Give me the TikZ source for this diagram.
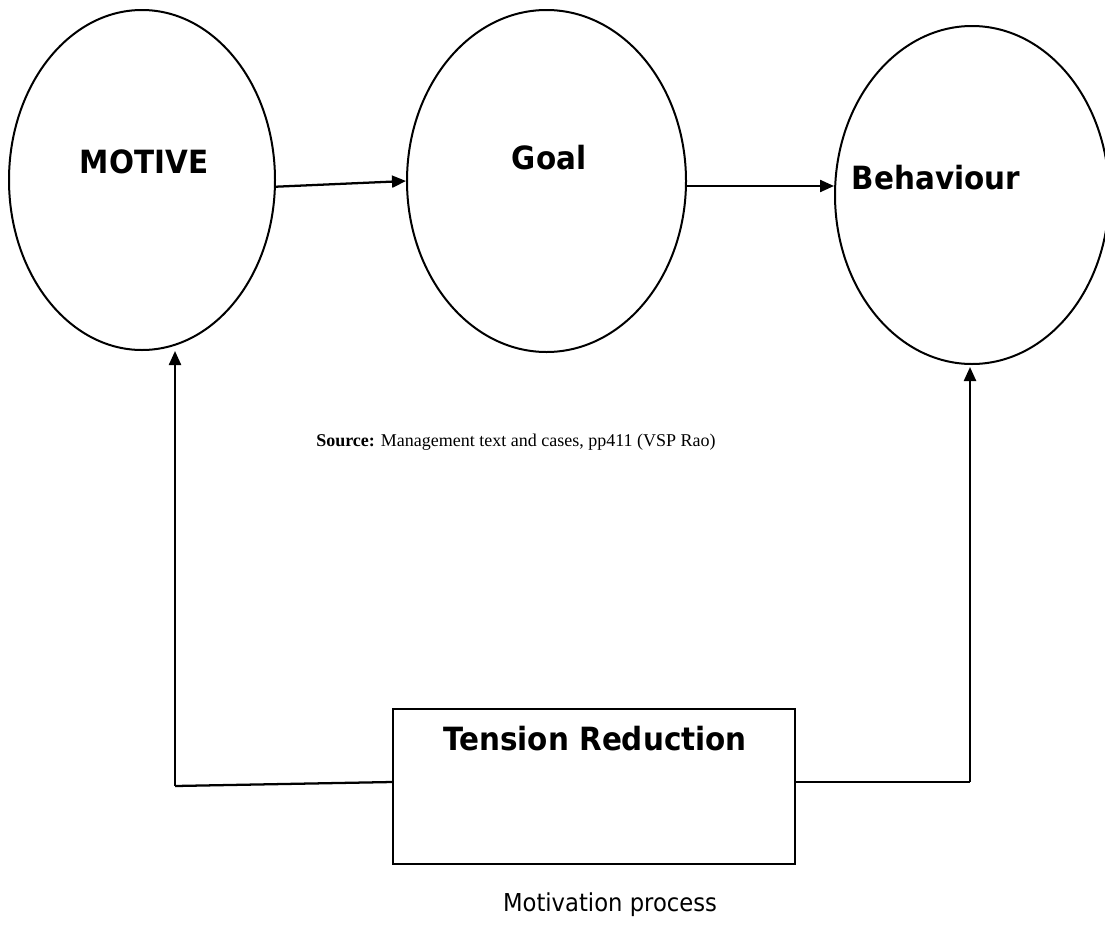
\documentclass[tikz,border=0pt]{standalone}
\usepackage{fontspec}
\setmainfont{Liberation Serif}
\newfontfamily\tah[FakeStretch=0.92]{DejaVu Sans}
\usetikzlibrary{shapes.geometric,arrows.meta,calc}

\tikzset{
  bubble/.style={ellipse, draw, line width=1.5pt, inner sep=0pt},
  heading/.style={font=\tah\bfseries\fontsize{24}{28}\selectfont, inner sep=0pt},
  panel/.style={rectangle, draw, line width=1.2pt, inner sep=0pt},
  conn/.style={line width=1.7pt, -{Triangle[length=10.5pt,width=9pt]}},
  plain/.style={line width=1.7pt}
}

\begin{document}
\begin{tikzpicture}[x=0.75pt,y=-0.75pt]
  \useasboundingbox (0,0) rectangle (1105,935);

  % the three stages of the process (sizes in pt = 0.75 x pixel size)
  \node[bubble, minimum width=199.5pt, minimum height=255pt] (m) at (142,180) {};
  \node[bubble, minimum width=209.25pt, minimum height=256.5pt] (g) at (546.5,181) {};
  \node[bubble, minimum width=205.5pt, minimum height=253.5pt] (b) at (972,195) {};

  \node[heading] (mt) at (144,162) {MOTIVE};
  \node[heading] (gt) at (549,158) {Goal};
  \node[heading] (bt) at (936,178) {Behaviour};

  % feedback box
  \node[panel, minimum width=301.5pt, minimum height=116.25pt] (tr) at (594,786.5) {};
  \node[heading] (trt) at (595,739) {Tension Reduction};

  % forward flow
  \draw[conn] ($(m.east)+(0,6.7)$) -- (g.west);
  \draw[conn] ($(g.east)+(0,5)$) -- ($(b.west)+(0,-9)$);

  % feedback loops
  \coordinate (cl) at (175,786);
  \coordinate (cr) at (970,782);
  \draw[plain] ($(tr.west)+(0,-4.5)$) -- (cl);
  \draw[conn] (cl) -- (cl |- m.south);
  \draw[plain] ($(tr.east)+(0,-4.5)$) -- (cr);
  \draw[conn] (cr) -- ($(cr |- b.south)+(0,2)$);

  % captions
  \node[anchor=west, inner sep=0pt, font=\fontsize{13.5}{16}\selectfont] (src) at (316,442)
    {\textbf{Source:} Management text and cases, pp411 (VSP Rao)};
  \node[inner sep=0pt, font=\tah\fontsize{18.5}{22}\selectfont] (cap) at (610,905) {Motivation process};
\end{tikzpicture}
\end{document}
